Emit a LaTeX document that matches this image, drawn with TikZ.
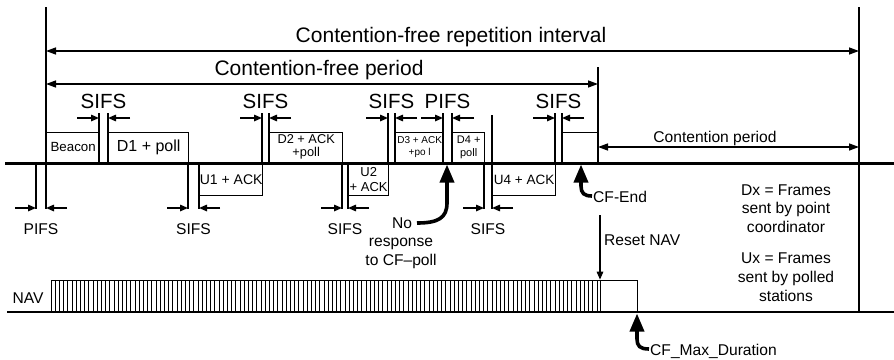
\documentclass[tikz,border=0pt]{standalone}
\usepackage{fontspec}
\setmainfont{Liberation Sans}
\usetikzlibrary{arrows.meta}
\newcommand\fszT{\fontsize{21}{24}\selectfont}
\newcommand\fszS{\fontsize{20.5}{24}\selectfont}
\newcommand\fszM{\fontsize{15.6}{18}\selectfont}
\begin{document}
\begin{tikzpicture}[x=1pt,y=-1pt,
  ln/.style={line width=1.45pt},
  tl/.style={line width=3pt},
  fr/.style={draw, line width=1.35pt, inner sep=0pt, align=center},
  sa/.style={line width=1.45pt, -{Triangle[length=8pt,width=6.5pt]}},
  da/.style={line width=1.45pt, {Triangle[length=10pt,width=7pt]}-{Triangle[length=10pt,width=7pt]}},
  ba/.style={line width=3.6pt, -{Triangle[length=18pt,width=14pt]}},
  lbl/.style={inner sep=0pt, align=center},
]
\useasboundingbox (0,0) rectangle (894,359);
\fill[white] (0,0) rectangle (894,359);

% frames on the medium
\node[fr, minimum width=53pt, minimum height=30pt, anchor=south west, font=\fontsize{13.3}{14}\selectfont] (beacon) at (46,163) {Beacon};
\node[fr, minimum width=80pt, minimum height=30pt, anchor=south west, font=\fontsize{16}{18}\selectfont] (d1) at (108,163) {D1 + poll};
\node[fr, minimum width=63pt, minimum height=32pt, anchor=north west, font=\fontsize{14}{16}\selectfont] (u1) at (199,163) {U1 + ACK};
\node[fr, minimum width=73pt, minimum height=30pt, anchor=south west, font=\fontsize{12.8}{13}\selectfont] (d2) at (269,163) {D2 + ACK\\+poll};
\node[fr, minimum width=40pt, minimum height=32pt, anchor=north west, font=\fontsize{13}{15}\selectfont] (u2) at (348,163) {U2\\+ ACK};
\node[fr, minimum width=48pt, minimum height=30pt, anchor=south west, font=\fontsize{10}{12}\selectfont] (d3) at (395,163) {D3 + ACK\\+po l};
\node[fr, minimum width=32pt, minimum height=30pt, anchor=south west, font=\fontsize{11}{13}\selectfont] (d4) at (452,163) {D4 +\\poll};
\node[fr, minimum width=63pt, minimum height=32pt, anchor=north west, font=\fontsize{13.5}{15}\selectfont] (u4) at (492,163) {U4 + ACK};
\node[fr, minimum width=36pt, minimum height=30pt, anchor=south west] (cfe) at (562,163) {};

% timeline
\coordinate (tlL) at (5,163); \coordinate (tlR) at (894,163);
\draw[tl] (tlL) -- (tlR);

% main verticals
\coordinate (vLt) at (46,7); \coordinate (vLb) at (46,209);
\draw[ln] (vLt) -- (vLb);
\coordinate (vRt) at (859,7); \coordinate (vRb) at (859,312);
\draw[ln] (vRt) -- (vRb);
\coordinate (vCt) at (598,67); \coordinate (vCb) at (598,163);
\draw[ln] (vCt) -- (vCb);
\coordinate (v4t) at (492,115); \coordinate (v4b) at (492,163);
\draw[ln] (v4t) -- (v4b);

% span arrows
\coordinate (rL) at (46,51); \coordinate (rR) at (859,51);
\draw[da] (rL) -- (rR);
\node[lbl, anchor=base, font=\fszT] (rep) at (451,42) {Contention-free repetition interval};
\coordinate (pL) at (46,84); \coordinate (pR) at (598,84);
\draw[da] (pL) -- (pR);
\node[lbl, anchor=base, font=\fszT] (cfp) at (319,75) {Contention-free period};
\coordinate (cL) at (598,147); \coordinate (cR) at (859,147);
\draw[da] (cL) -- (cR);
\node[lbl, anchor=base, font=\fszM] (cp) at (715,142) {Contention period};

% interframe spaces above the medium
\foreach \a/\b/\t [count=\k] in {99/108/SIFS,262/269/SIFS,388/395/SIFS,443/452/PIFS,555/562/SIFS}{
  \draw[ln] (\a,113) -- (\a,163) (\b,113) -- (\b,163);
  \draw[sa] (\a-22,118) -- (\a,118);
  \draw[sa] (\b+22,118) -- (\b,118);
  \node[lbl, anchor=base, font=\fszS] (ts\k) at ({(\a+\b)/2},108) {\t};
}
% interframe spaces below the medium
\foreach \a/\b/\t [count=\k] in {36/46/PIFS,188/199/SIFS,342/348/SIFS,484/492/SIFS}{
  \draw[ln] (\a,163) -- (\a,209) (\b,163) -- (\b,209);
  \draw[sa] (\a-21,208) -- (\a,208);
  \draw[sa] (\b+21,208) -- (\b,208);
  \node[lbl, anchor=base, font=\fszM] (bs\k) at ({(\a+\b)/2},234) {\t};
}

% no response
\node[lbl, anchor=base, font=\fszM] (no1) at (402,228) {No};
\node[lbl, anchor=base, font=\fszM] (no2) at (401,246.5) {response};
\node[lbl, anchor=base, font=\fszM] (no3) at (401,265) {to CF--poll};
\coordinate (nrs) at (417,223); \coordinate (nrt) at (447,164.5);
\draw[ba] (nrs) .. controls (438,223) and (447,218) .. (447,203) -- (nrt);

% CF-End
\node[lbl, anchor=base west, font=\fszM] (cfel) at (593,202) {CF-End};
\coordinate (ces) at (592,196); \coordinate (cet) at (581,164.5);
\draw[ba] (ces) .. controls (584,196) and (581,193) .. (581,186) -- (cet);

% legend
\node[lbl, anchor=base, font=\fszM] (dx1) at (786,195) {Dx = Frames};
\node[lbl, anchor=base, font=\fszM] (dx2) at (786,213.5) {sent by point};
\node[lbl, anchor=base, font=\fszM] (dx3) at (786,232) {coordinator};
\node[lbl, anchor=base, font=\fszM] (ux1) at (786,263) {Ux = Frames};
\node[lbl, anchor=base, font=\fszM] (ux2) at (786,282) {sent by polled};
\node[lbl, anchor=base, font=\fszM] (ux3) at (786,301) {stations};

% NAV
\coordinate (navL) at (7,312); \coordinate (navR) at (894,312);
\draw[line width=2.2pt] (navL) -- (navR);
\node[draw, line width=1.35pt, minimum width=549pt, minimum height=31pt, anchor=south west, inner sep=0pt] (navbox) at (51,312) {};
\foreach \i in {1,...,130} \draw[line width=0.85pt] ({51+\i*4.2},281) -- ({51+\i*4.2},312);
\node[draw, line width=1.35pt, minimum width=37pt, minimum height=31pt, anchor=south west, inner sep=0pt] (navend) at (600,312) {};
\node[lbl, anchor=base, font=\fszM] (navlbl) at (28,303) {NAV};

% reset NAV
\coordinate (rs) at (600,215);
\draw[sa] (rs) -- (navend.north west);
\node[lbl, anchor=base west, font=\fszM] (resetl) at (604,245) {Reset NAV};

% CF_Max_Duration
\node[lbl, anchor=base west, font=\fszM] (cfml) at (650,355) {CF\_Max\_Duration};
\coordinate (cms) at (649,349); \coordinate (cmt) at (637,313.5);
\draw[ba] (cms) .. controls (640,349) and (637,346) .. (637,339) -- (cmt);
\end{tikzpicture}
\end{document}
